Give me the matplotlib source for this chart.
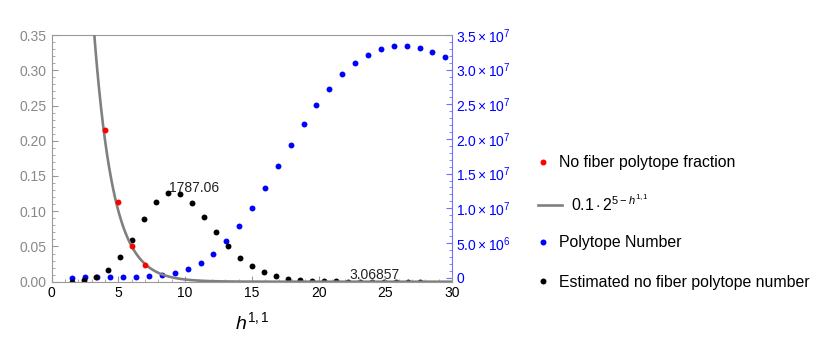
import numpy as np
import matplotlib
matplotlib.use("Agg")
import matplotlib.pyplot as plt
from matplotlib.lines import Line2D
from matplotlib.ticker import MultipleLocator, FuncFormatter

plt.rcParams['font.family'] = ['Liberation Sans', 'DejaVu Sans']
plt.rcParams['mathtext.fontset'] = 'custom'
plt.rcParams['mathtext.rm'] = 'Liberation Sans'
plt.rcParams['mathtext.it'] = 'Liberation Sans:italic'

# no fiber polytope fraction
red_h = [4, 5, 6, 7]
red_frac = [0.2148, 0.1131, 0.0511, 0.0237]

# polytope number (30 points)
blue_h = [1.5, 2.47, 3.43, 4.4, 5.36, 6.33, 7.29, 8.26, 9.22, 10.19,
          11.16, 12.12, 13.09, 14.05, 15.02, 15.98, 16.95, 17.91, 18.88, 19.84,
          20.81, 21.78, 22.74, 23.71, 24.67, 25.64, 26.6, 27.57, 28.53, 29.5]
blue_num = [2e3, 1.5e4, 3e4, 4e4, 5e4, 8e4, 2e5, 3.6e5, 6.5e5, 1.23e6,
            2.1e6, 3.44e6, 5.27e6, 7.49e6, 1.009e7, 1.298e7, 1.611e7, 1.915e7, 2.214e7, 2.488e7,
            2.728e7, 2.936e7, 3.095e7, 3.215e7, 3.298e7, 3.335e7, 3.341e7, 3.306e7, 3.258e7, 3.176e7]

# estimated no fiber polytope number (30 points)
black_h = [1.5, 2.4, 3.3, 4.2, 5.1, 6.0, 6.9, 7.8, 8.7, 9.6,
           10.5, 11.4, 12.3, 13.2, 14.1, 15.0, 15.9, 16.8, 17.7, 18.6,
           19.5, 20.4, 21.3, 22.2, 23.1, 24.0, 24.9, 25.8, 26.7, 27.6]
black_num = [1, 34, 95, 242, 493, 849, 1261, 1605, 1787.06, 1780,
             1596, 1314, 1010, 722, 485, 318, 197, 115, 61, 34,
             14, 8, 4.5, 3.06857, 2, 1.2, 0.7, 0.4, 0.2, 0.1]

fig = plt.figure(figsize=(8.17, 3.46), dpi=100)
ax = fig.add_axes([0.0633, 0.1858, 0.49, 0.713])
ax2 = ax.twinx()
ax3 = ax.twinx()

gray = '#888888'
axis_gray = '#999999'

# blue series on right axis
ax2.scatter(blue_h, blue_num, s=18, color='#0000ff', zorder=3, linewidths=0)
ax2.set_ylim(-0.6e6, 3.5e7)

# black series on hidden axis
ax3.scatter(black_h, black_num, s=18, color='black', zorder=3, linewidths=0)
ax3.set_ylim(0, 1787.06 * 0.35 / 0.1254)
ax3.axis('off')
imax = int(np.argmax(black_num))
ax3.annotate(f"{black_num[imax]:g}", (black_h[imax], black_num[imax]),
             xytext=(1, 1), textcoords='offset points', fontsize=10, color='#222222')
ax3.annotate("3.06857", (black_h[23], black_num[23]),
             xytext=(1, 2), textcoords='offset points', fontsize=10, color='#222222')

# fraction + fit on left axis
hh = np.linspace(0, 30, 600)
ax.plot(hh, 0.1 * 2 ** (5 - hh), color='#808080', lw=1.9, zorder=4)
ax.scatter(red_h, red_frac, s=18, color='#ff0000', zorder=5, linewidths=0)
ax.set_xlim(0, 30)
ax.set_ylim(0, 0.35)
ax.set_zorder(ax3.get_zorder() + 1)
ax.patch.set_visible(False)

ax.xaxis.set_major_locator(MultipleLocator(5))
ax.xaxis.set_minor_locator(MultipleLocator(1))
ax.yaxis.set_major_locator(MultipleLocator(0.05))
ax.yaxis.set_minor_locator(MultipleLocator(0.01))
ax.yaxis.set_major_formatter(FuncFormatter(lambda v, p: f"{v:.2f}"))
ax.tick_params(axis='both', which='both', direction='in', color=axis_gray)
ax.tick_params(axis='both', which='major', length=4)
ax.tick_params(axis='both', which='minor', length=2)
ax.tick_params(axis='y', labelcolor=gray, labelsize=10, pad=4)
ax.tick_params(axis='x', labelcolor='black', labelsize=10, pad=3)
ax.tick_params(top=False, which='both')
for s in ['left', 'bottom', 'top']:
    ax.spines[s].set_color(axis_gray)
ax.spines['right'].set_visible(False)
ax.set_xlabel(r'$h^{1,1}$', fontsize=14, labelpad=8)


def sci(v, p):
    if v == 0:
        return '0'
    e = int(np.floor(np.log10(abs(v))))
    m = v / 10 ** e
    return r'$%.1f\times10^{%d}$' % (m, e)


ax2.yaxis.set_major_locator(MultipleLocator(5e6))
ax2.yaxis.set_minor_locator(MultipleLocator(1e6))
ax2.yaxis.set_major_formatter(FuncFormatter(sci))
ax2.tick_params(axis='y', which='both', direction='in', color='#7070ff',
                labelcolor='#0000ff', labelsize=10, pad=3)
ax2.tick_params(axis='y', which='major', length=4)
ax2.tick_params(axis='y', which='minor', length=2)
ax2.spines['right'].set_color('#7070ff')
for s in ['left', 'bottom', 'top']:
    ax2.spines[s].set_visible(False)

# legend: one entry per row, markers sit further left than the line sample
handles = [
    Line2D([], [], ls='none', marker='o', ms=4.3, color='#ff0000', mew=0),
    Line2D([], [], color='#808080', lw=1.9),
    Line2D([], [], ls='none', marker='o', ms=4.3, color='#0000ff', mew=0),
    Line2D([], [], ls='none', marker='o', ms=4.3, color='black', mew=0),
]
labels = ['No fiber polytope fraction', r'$0.1\cdot2^{5-h^{1,1}}$',
          'Polytope Number', 'Estimated no fiber polytope number']
rows_y = [162.7, 203.3, 242.7, 282.3]
for hnd, lab, yy in zip(handles, labels, rows_y):
    is_line = hnd.get_linestyle() != 'None'
    x0 = 538 if is_line else 536.7
    fig.legend([hnd], [lab], loc='center left',
               bbox_to_anchor=(x0 / 817, 1 - yy / 346),
               frameon=False, fontsize=11.4, borderpad=0, borderaxespad=0,
               handlelength=1.52 if is_line else 0.8,
               handletextpad=0.57 if is_line else 0.61)

fig.savefig('out.png', dpi=100)
